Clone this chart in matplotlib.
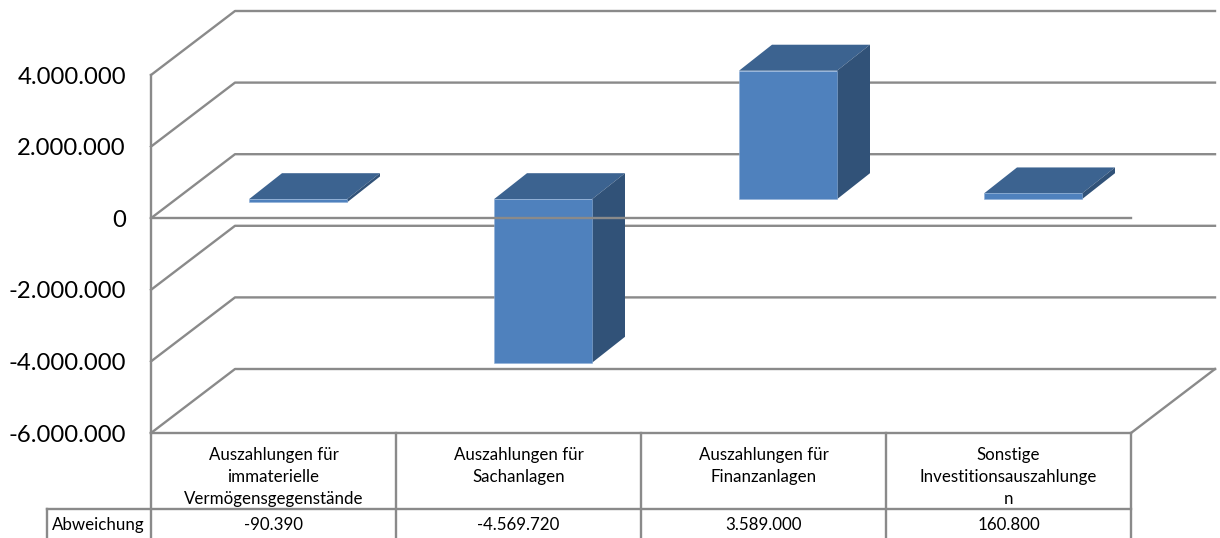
import matplotlib
matplotlib.use('Agg')
import matplotlib.pyplot as plt
from matplotlib.patches import Polygon

categories = ['Auszahlungen für\nimmaterielle\nVermögensgegenstände',
              'Auszahlungen für\nSachanlagen',
              'Auszahlungen für\nFinanzanlagen',
              'Sonstige\nInvestitionsauszahlunge\nn']
values = [-90390, -4569720, 3589000, 160800]
value_labels = ['-90.390', '-4.569.720', '3.589.000', '160.800']
series_name = 'Abweichung'
y_ticks = [-6000000, -4000000, -2000000, 0, 2000000, 4000000]
y_tick_labels = ['-6.000.000', '-4.000.000', '-2.000.000', '0', '2.000.000', '4.000.000']

W, H = 1220, 538
LEFT, RIGHT, TOP, BOTTOM = 151, 1131, 75, 433
LINE = '#8A8A8A'
FONT = 'Lato'

# 3d look: wall depth and bar placement, in axis units
cat_px = (RIGHT - LEFT) / 4
val_px = (BOTTOM - TOP) / 10000000
wall_dx = 84 / cat_px
wall_dy = 64 / val_px
bar_w = 98 / cat_px
bar_off = 98 / cat_px
bar_dx = 33 / cat_px
bar_dy = 26 / val_px
base_y = 19 / val_px

fig = plt.figure(figsize=(W / 100, H / 100), dpi=100)
ax = fig.add_axes([LEFT / W, 1 - BOTTOM / H, (RIGHT - LEFT) / W, (BOTTOM - TOP) / H])
ax.set_xlim(0, 4)
ax.set_ylim(-6000000, 4000000)
ax.set_xticks([])
ax.set_yticks(y_ticks)
ax.set_yticklabels(y_tick_labels, fontsize=17.2, family=FONT, color='black')
ax.tick_params(axis='y', length=0, pad=18)
for s in ax.spines.values():
    s.set_visible(False)

lw = 1.7
# walls
for t in y_ticks:
    ax.plot([0, wall_dx, 4 + wall_dx], [t, t + wall_dy, t + wall_dy],
            color=LINE, lw=lw, clip_on=False, zorder=1)
ax.plot([4, 4 + wall_dx], [y_ticks[0], y_ticks[0] + wall_dy], color=LINE, lw=lw, clip_on=False, zorder=1)

# bars
for i, v in enumerate(values):
    x0 = i + bar_off
    x1 = x0 + bar_w
    hi = max(v, 0) + base_y
    lo = min(v, 0) + base_y
    ax.add_patch(Polygon([(x0, hi), (x0 + bar_dx, hi + bar_dy), (x1 + bar_dx, hi + bar_dy), (x1, hi)],
                         closed=True, fc='#3C6390', ec='none', clip_on=False, zorder=3))
    ax.add_patch(Polygon([(x1, lo), (x1 + bar_dx, lo + bar_dy), (x1 + bar_dx, hi + bar_dy), (x1, hi)],
                         closed=True, fc='#315278', ec='none', clip_on=False, zorder=3))
    ax.bar(x0, hi - lo, bottom=lo, width=bar_w, align='edge', color='#4F81BD',
           edgecolor='#8FB0D8', linewidth=0.4, clip_on=False, zorder=4)

# front axis lines, the zero line runs over the bars
ax.plot([0, 4], [0, 0], color=LINE, lw=lw, clip_on=False, zorder=5)
ax.plot([0, 4], [y_ticks[0], y_ticks[0]], color=LINE, lw=lw, clip_on=False, zorder=5)
ax.plot([0, 0], [y_ticks[0], y_ticks[-1]], color=LINE, lw=lw, clip_on=False, zorder=5)

# data table below the plot
tr = ax.get_xaxis_transform()
def frac(py):
    return (BOTTOM - py) / (BOTTOM - TOP)

row_y = 509
for i in range(5):
    ax.plot([i, i], [frac(BOTTOM), frac(H + 2)], transform=tr, color=LINE, lw=lw, clip_on=False, zorder=5)
name_x = (47 - LEFT) / cat_px
ax.plot([name_x, 4], [frac(row_y), frac(row_y)], transform=tr, color=LINE, lw=lw, clip_on=False, zorder=5)
ax.plot([name_x, name_x], [frac(row_y), frac(H + 2)], transform=tr, color=LINE, lw=lw, clip_on=False, zorder=5)

for i, lab in enumerate(categories):
    for j, part in enumerate(lab.split('\n')):
        ax.text(i + 0.5, frac(455 + j * 22), part, transform=tr, ha='center', va='center',
                fontsize=12.2, family=FONT, color='black', clip_on=False)
    ax.text(i + 0.5, frac(525), value_labels[i], transform=tr, ha='center', va='center',
            fontsize=12.2, family=FONT, color='black', clip_on=False)
ax.text((98 - LEFT) / cat_px, frac(525), series_name, transform=tr, ha='center', va='center',
        fontsize=12.2, family=FONT, color='black', clip_on=False)

plt.savefig('out.png', dpi=100)
